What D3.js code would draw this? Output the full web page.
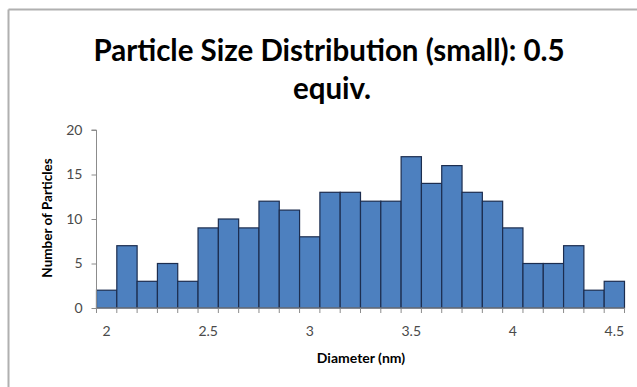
<!DOCTYPE html>
<html><head><meta charset="utf-8">
<script src="https://cdn.jsdelivr.net/npm/d3@7"></script>
<style>
html,body{margin:0;padding:0;background:#fff;}
svg{display:block;}
</style></head>
<body>
<svg id="chart" width="637" height="387"></svg>
<script>
const titleLines = ["Particle Size Distribution (small): 0.5", "equiv."];
const xTitle = "Diameter (nm)";
const yTitle = "Number of Particles";
const diameters = [2.0,2.1,2.2,2.3,2.4,2.5,2.6,2.7,2.8,2.9,3.0,3.1,3.2,3.3,3.4,3.5,3.6,3.7,3.8,3.9,4.0,4.1,4.2,4.3,4.4,4.5];
const counts    = [2,7,3,5,3,9,10,9,12,11,8,13,13,12,12,17,14,16,13,12,9,5,5,7,2,3];
const xTickLabels = ["2","2.5","3","3.5","4","4.5"];
const yTicks = [0,5,10,15,20];

(function(){
const svg = d3.select("#chart");
const font = "Lato, 'Open Sans', sans-serif";

// frame border (top and left visible)
svg.append("line").attr("x1",8.5).attr("x2",637).attr("y1",9.5).attr("y2",9.5).attr("stroke","#b0b0b0").attr("stroke-width",2);
svg.append("line").attr("x1",8.5).attr("x2",8.5).attr("y1",9.5).attr("y2",387).attr("stroke","#b0b0b0").attr("stroke-width",2);

const pl = 96.5, pr = 624.5, pt = 130, pb = 308;
const x = d3.scaleBand().domain(diameters.map(String)).range([pl, pr]).padding(0);
const y = d3.scaleLinear().domain([0,20]).range([pb, pt]);

// bars
svg.append("g").selectAll("rect").data(counts).join("rect")
  .attr("x", (d,i) => x(String(diameters[i])))
  .attr("y", d => y(d))
  .attr("width", x.bandwidth())
  .attr("height", d => y(0) - y(d))
  .attr("fill", "#4d80bf")
  .attr("stroke", "#1c2d4f")
  .attr("stroke-width", 1.2);

// y axis
const yAxis = d3.axisLeft(y).tickValues(yTicks).tickSize(5).tickPadding(9);
const gy = svg.append("g").attr("transform", `translate(${pl},0)`).call(yAxis);
gy.select(".domain").attr("stroke","#8c8c8c").attr("d", `M-5,${pt}H0V${pb}`);
gy.selectAll(".tick line").attr("stroke","#8c8c8c");
gy.selectAll(".tick text").attr("font-family",font).attr("font-size",14).attr("fill","#4a4a4a");

// x axis
const xAxis = d3.axisBottom(x).tickSize(0).tickPadding(18)
  .tickFormat(d => xTickLabels.includes(String(+d)) ? String(+d) : "");
const gx = svg.append("g").attr("transform", `translate(0,${pb})`).call(xAxis);
gx.select(".domain").attr("stroke","#8c8c8c").attr("d", `M${pl},0H${pr}`);
gx.selectAll(".tick text").attr("font-family",font).attr("font-size",14).attr("fill","#4a4a4a");
// category boundary ticks
const bounds = diameters.map(d => x(String(d))).concat([pr]);
gx.append("g").selectAll("line").data(bounds).join("line")
  .attr("x1", d=>d).attr("x2", d=>d).attr("y1",0).attr("y2",5)
  .attr("stroke","#8c8c8c");

// titles
const t = svg.append("text").attr("text-anchor","middle").attr("font-family",font)
  .attr("font-weight","bold").attr("font-size",29.5).attr("fill","#000");
t.append("tspan").attr("x",329).attr("y",61).text(titleLines[0]);
t.append("tspan").attr("x",332).attr("y",99).text(titleLines[1]);

svg.append("text").attr("x",361).attr("y",363).attr("text-anchor","middle")
  .attr("font-family",font).attr("font-weight","bold").attr("font-size",14).attr("fill","#000").text(xTitle);

svg.append("text").attr("transform","translate(52,218) rotate(-90)").attr("text-anchor","middle")
  .attr("font-family",font).attr("font-weight","bold").attr("font-size",13.5).attr("fill","#000").text(yTitle);
})();
</script>
</body></html>
